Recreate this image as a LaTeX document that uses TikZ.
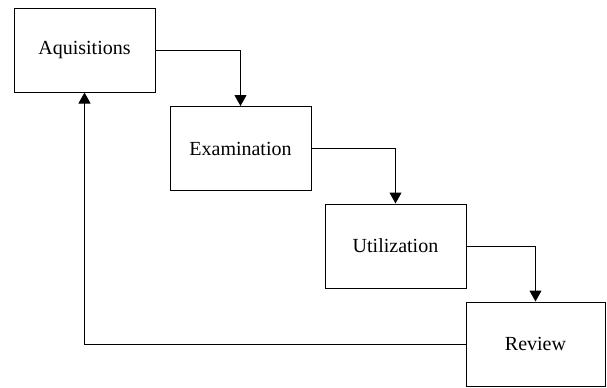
\documentclass[tikz,border=0pt]{standalone}
\usepackage{fontspec}
\setmainfont{Liberation Serif}
\usetikzlibrary{arrows.meta}

\begin{document}
\begin{tikzpicture}[x=0.5pt, y=-0.5pt,
  stage/.style={draw, line width=0.5pt, minimum width=70.5pt, minimum height=42pt, font=\fontsize{10}{12}\selectfont},
  flow/.style={line width=0.5pt, -{Triangle[width=6pt, length=5.5pt]}}]
\useasboundingbox (0, 0) rectangle (607, 387);
\node[stage] (acq) at (84.5, 50) {Aquisitions};
\node[stage] (exam) at (240.5, 148.5) {Examination};
\node[stage] (util) at (395.5, 246) {Utilization};
\node[stage, minimum width=69.5pt] (rev) at (535.5, 344) {Review};
\draw[flow] (acq.east) -| (exam.north);
\draw[flow] (exam.east) -| (util.north);
\draw[flow] (util.east) -| (rev.north);
\draw[flow] (rev.west) -| (acq.south);
\end{tikzpicture}
\end{document}
